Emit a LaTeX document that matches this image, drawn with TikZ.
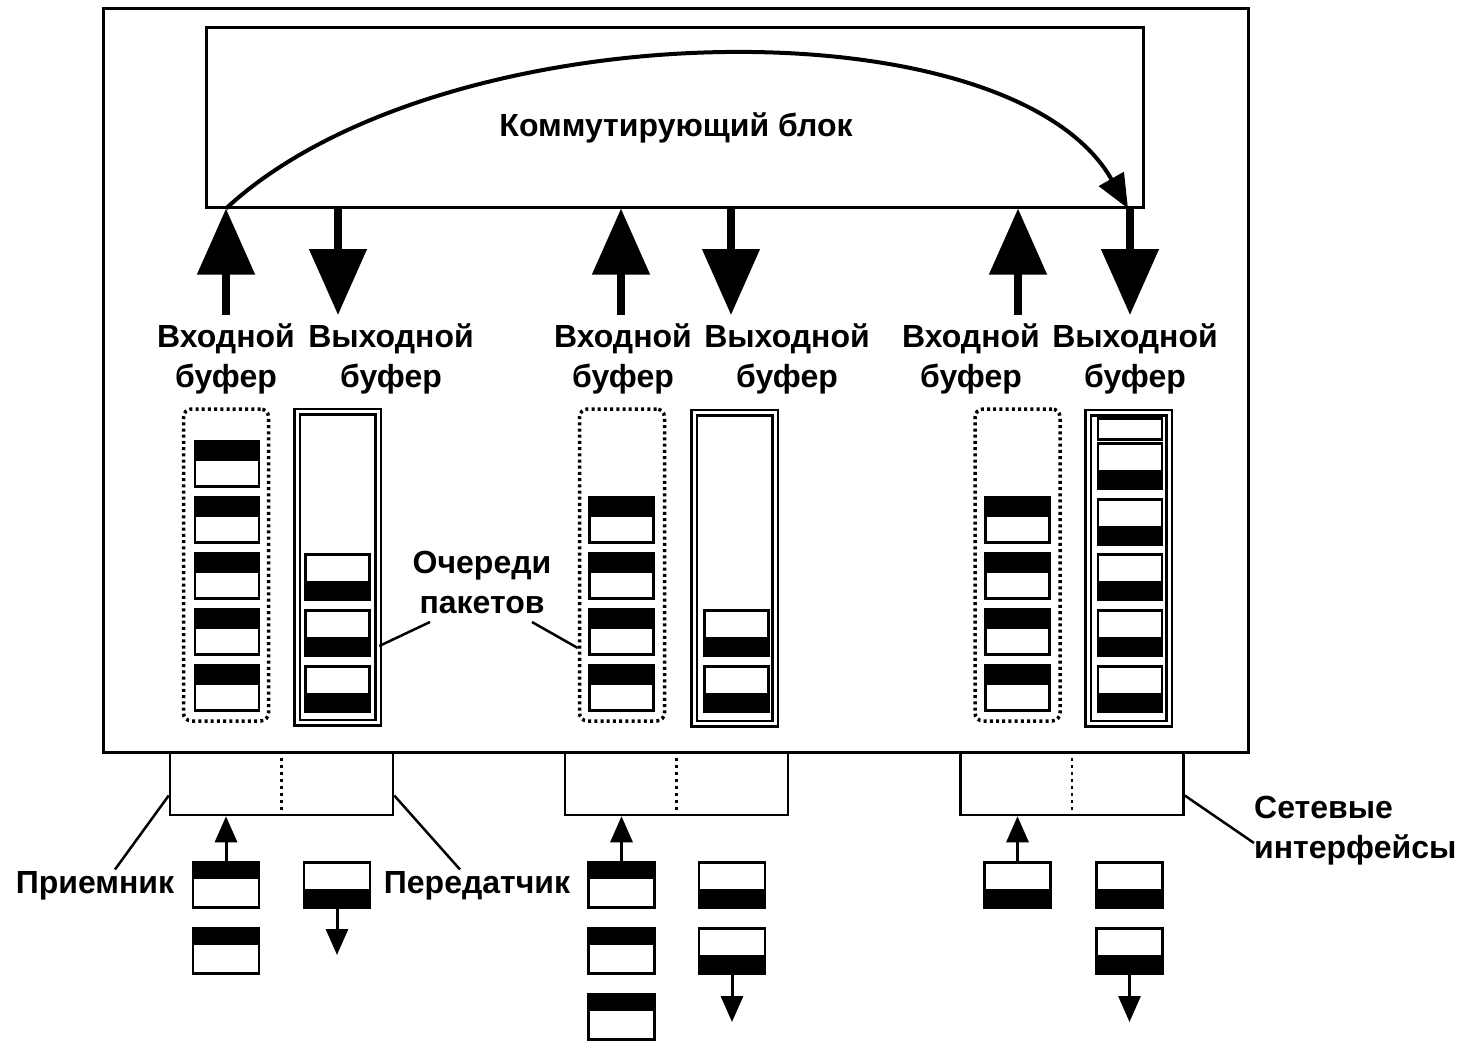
\documentclass[tikz,border=0pt]{standalone}
\usepackage{fontspec}
\setmainfont{Liberation Sans}
\usetikzlibrary{arrows.meta,calc}
\begin{document}
\begin{tikzpicture}[x=1pt,y=-1pt,
  outerbox/.style={draw,line width=3pt},
  blockbox/.style={draw,line width=3pt,minimum width=937pt,minimum height=180pt,inner sep=0pt},
  lbl/.style={font=\fontsize{32}{40}\selectfont\bfseries,align=center,inner sep=0pt},
  titlelbl/.style={font=\fontsize{32}{40}\selectfont\bfseries,inner sep=0pt},
  bigarrow/.style={line width=8pt,-{Triangle[length=66pt,width=56pt]}},
  smallarrow/.style={line width=3pt,-{Triangle[length=26pt,width=22pt]}},
  arcarrow/.style={line width=4pt,-{Triangle[length=34pt,width=28pt]}},
  thinline/.style={line width=2.5pt},
  inbuf/.style={draw,line width=3.5pt,dash pattern=on 3pt off 3.2pt,rounded corners=8pt,minimum width=85pt,minimum height=312pt,inner sep=0pt},
  outbuf/.style={draw,line width=2.5pt,double,double distance=3pt,minimum width=81pt,minimum height=311pt,inner sep=0pt},
  iface/.style={draw,line width=2.5pt,minimum width=223pt,minimum height=63pt,inner sep=0pt},
  pkttop/.style={draw,line width=2.5pt,minimum width=64pt,minimum height=45pt,inner sep=0pt,
    path picture={\fill[black] (path picture bounding box.north west) rectangle ([yshift=-19pt]path picture bounding box.north east);}},
  pktbot/.style={draw,line width=2.5pt,minimum width=64pt,minimum height=45pt,inner sep=0pt,
    path picture={\fill[black] (path picture bounding box.south west) rectangle ([yshift=19pt]path picture bounding box.south east);}},
  pktrx/.style={pkttop,minimum width=66pt,path picture={\fill[black] (path picture bounding box.north west) rectangle ([yshift=-16pt]path picture bounding box.north east);}},
  pkttx/.style={pktbot,minimum width=66pt},
  emptypkt/.style={draw,line width=2.5pt,minimum width=64pt,minimum height=21pt,inner sep=0pt}
]
\useasboundingbox (0,0) rectangle (1470,1042);

% outer router box
\node[outerbox,minimum width=1145pt,minimum height=744pt,inner sep=0pt] (router) at (675.5,380) {};

% switching block
\node[blockbox] (blk) at (674.5,117) {};
\node[titlelbl] (title) at (676,128) {Коммутирующий блок};

% arrow anchor coordinates
\coordinate (a1) at (226,315);
\coordinate (a2) at (338,315);
\coordinate (a3) at (621,315);
\coordinate (a4) at (731,315);
\coordinate (a5) at (1018,315);
\coordinate (a6) at (1130,315);

\draw[bigarrow] (a1) -- (a1 |- blk.south);
\draw[bigarrow] (a2 |- blk.south) -- (a2);
\draw[bigarrow] (a3) -- (a3 |- blk.south);
\draw[bigarrow] (a4 |- blk.south) -- (a4);
\draw[bigarrow] (a5) -- (a5 |- blk.south);
\draw[bigarrow] (a6 |- blk.south) -- (a6);

% arc through the switching block
\coordinate (arcS) at (a1 |- blk.south);
\coordinate (arcE) at ([xshift=-2pt]a6 |- blk.south);
\draw[arcarrow] (arcS) .. controls (440,10) and (1010,0) .. (arcE);

% buffer labels
\node[lbl] (lin1) at (226,359) {Входной\\буфер};
\node[lbl] (lout1) at (391,359) {Выходной\\буфер};
\node[lbl] (lin2) at (623,359) {Входной\\буфер};
\node[lbl] (lout2) at (787,359) {Выходной\\буфер};
\node[lbl] (lin3) at (971,359) {Входной\\буфер};
\node[lbl] (lout3) at (1135,359) {Выходной\\буфер};

% input buffers (dotted)
\node[inbuf] (ib1) at (226,565) {};
\node[inbuf] (ib2) at (622,565) {};
\node[inbuf] (ib3) at (1017.5,565) {};

% output buffers (double frame)
\node[outbuf] (ob1) at (337.5,567) {};
\node[outbuf] (ob2) at (734.5,568) {};
\node[outbuf] (ob3) at (1128.5,568) {};

% packets in input buffers
\foreach \y [count=\i] in {464,520,576,632,688} {
  \node[pkttop] (ip1\i) at (227,\y) {};
}
\foreach \y [count=\i] in {520,576,632,688} {
  \node[pkttop] (ip2\i) at (621.5,\y) {};
  \node[pkttop] (ip3\i) at (1017.5,\y) {};
}
% packets in output buffers
\foreach \y [count=\i] in {577,633,689} {
  \node[pktbot] (op1\i) at (337.5,\y) {};
}
\foreach \y [count=\i] in {633,689} {
  \node[pktbot] (op2\i) at (736.5,\y) {};
}
\node[emptypkt] (op30) at (1130,429) {};
\foreach \y [count=\i] in {466,522,577,633,689} {
  \node[pktbot] (op3\i) at (1130,\y) {};
}

% packet queue label
\node[lbl] (queues) at (482,582) {Очереди\\пакетов};
\draw[thinline] ([xshift=-52pt,yshift=-40pt]queues.center) -- (ob1.east |- 0,646);
\draw[thinline] ([xshift=50pt,yshift=-40pt]queues.center) -- (ib2.west |- 0,648);

% network interfaces
\node[iface] (if1) at (281.5,783.5) {};
\node[iface] (if2) at (676.5,783.5) {};
\node[iface] (if3) at (1072,783.5) {};
\foreach \n in {if1,if2,if3} {
  \draw[line width=2.5pt,dash pattern=on 3pt off 4pt] (\n.north) -- (\n.south);
}

% bottom labels
\node[lbl] (rx) at (95,886) {Приемник};
\node[lbl] (tx) at (477,886) {Передатчик};
\node[lbl,align=left,anchor=west] (netif) at (1254,831) {Сетевые\\интерфейсы};
\draw[thinline] ([yshift=-12pt]if1.west) -- ([xshift=20pt,yshift=2pt]rx.north);
\draw[thinline] ([yshift=-12pt]if1.east) -- ([xshift=-17pt,yshift=2pt]tx.north);
\draw[thinline] ([yshift=-12pt]if3.east) -- ([yshift=-12pt]netif.west);

% receiver / transmitter packets, left
\node[pktrx] (rx11) at (226,885) {};
\node[pktrx] (rx12) at (226,951) {};
\node[pkttx] (tx11) at (337,885) {};
\coordinate (t1e) at (337,955);
\draw[smallarrow] (rx11.north) -- (rx11.north |- if1.south);
\draw[smallarrow] (tx11.south) -- (t1e);

% middle
\node[pktrx] (rx21) at (621.5,885) {};
\node[pktrx] (rx22) at (621.5,951) {};
\node[pktrx] (rx23) at (621.5,1017) {};
\node[pkttx] (tx21) at (732,885) {};
\node[pkttx] (tx22) at (732,951) {};
\coordinate (t2e) at (732,1022);
\draw[smallarrow] (rx21.north) -- (rx21.north |- if2.south);
\draw[smallarrow] (tx22.south) -- (t2e);

% right
\node[pkttx] (rx31) at (1017.5,885) {};
\node[pkttx] (tx31) at (1129.5,885) {};
\node[pkttx] (tx32) at (1129.5,951) {};
\coordinate (t3e) at (1129.5,1022);
\draw[smallarrow] (rx31.north) -- (rx31.north |- if3.south);
\draw[smallarrow] (tx32.south) -- (t3e);
\end{tikzpicture}
\end{document}
